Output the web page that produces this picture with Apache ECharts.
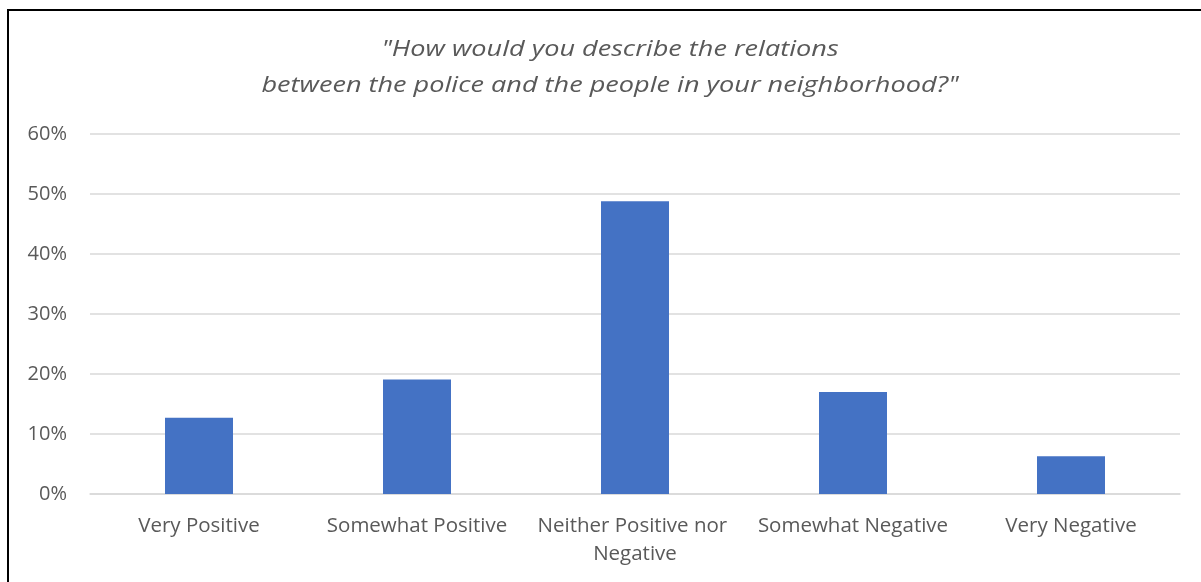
<!DOCTYPE html>
<html>
<head>
<meta charset="utf-8">
<script src="https://cdn.jsdelivr.net/npm/echarts@6/dist/echarts.min.js"></script>
<style>
  html, body { margin: 0; padding: 0; background: #fff; }
  #chart { width: 1201px; height: 582px; }
</style>
</head>
<body>
<div id="chart"></div>
<script>
// Survey responses: share of respondents per answer (percent)
const categories = [
  'Very Positive',
  'Somewhat Positive',
  'Neither Positive nor Negative',
  'Somewhat Negative',
  'Very Negative'
];
const shares = [12.7, 19.1, 48.8, 17.0, 6.3];
const titleLines = [
  '"How would you describe the relations',
  'between the police and the people in your neighborhood?"'
];

const FONT = '"Open Sans", "Noto Sans", sans-serif';
const TEXT = '#595959';

const chart = echarts.init(document.getElementById('chart'), null, { renderer: 'canvas' });

// Title lines are drawn as wide-set italic text, centred above the plot
const titleGraphics = titleLines.map((line, i) => ({
  type: 'text',
  x: 610,
  y: 50 + i * 36,
  scaleX: 1.29,
  silent: true,
  style: {
    text: line,
    fill: TEXT,
    font: 'italic 21px ' + FONT,
    textAlign: 'center',
    textVerticalAlign: 'middle'
  }
}));

chart.setOption({
  animation: false,
  backgroundColor: '#ffffff',
  graphic: [{
    // chart frame (left and top edges visible)
    type: 'rect',
    shape: { x: 8, y: 10, width: 1400, height: 800 },
    style: { fill: 'none', stroke: '#000', lineWidth: 2 },
    silent: true
  }].concat(titleGraphics),
  grid: { left: 90, right: 21, top: 134, bottom: 88 },
  xAxis: {
    type: 'category',
    data: categories,
    axisLine: { show: true, lineStyle: { color: '#D9D9D9', width: 1.5 } },
    axisTick: { show: false },
    axisLabel: {
      interval: 0,
      margin: 18,
      color: TEXT,
      fontFamily: FONT,
      fontSize: 20.5,
      lineHeight: 28,
      width: 210,
      overflow: 'break'
    }
  },
  yAxis: {
    type: 'value',
    min: 0,
    max: 60,
    interval: 10,
    axisLine: { show: false },
    axisTick: { show: false },
    splitLine: { lineStyle: { color: '#D9D9D9', width: 1.5 } },
    axisLabel: {
      margin: 23,
      color: TEXT,
      fontFamily: FONT,
      fontSize: 20,
      formatter: v => v + '%'
    }
  },
  series: [{
    type: 'bar',
    data: shares,
    barWidth: 68,
    itemStyle: { color: '#4472C4' }
  }]
});
</script>
</body>
</html>
